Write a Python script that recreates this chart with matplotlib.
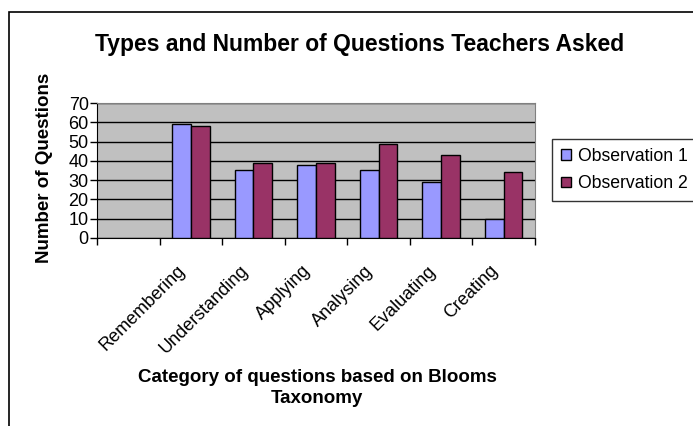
import matplotlib
matplotlib.use('Agg')
import matplotlib.pyplot as plt
import matplotlib.transforms as mtransforms
import numpy as np
from matplotlib.patches import Rectangle

plt.rcParams['font.family'] = ['Liberation Sans', 'DejaVu Sans']

categories = ['', 'Remembering', 'Understanding', 'Applying', 'Analysing', 'Evaluating', 'Creating']
obs1 = [0, 59, 35, 38, 35, 29, 10]
obs2 = [0, 58, 39, 39, 49, 43, 34]
series_names = ['Observation 1', 'Observation 2']
yticks = [0, 10, 20, 30, 40, 50, 60, 70]

fig = plt.figure(figsize=(6.93, 4.26), dpi=100)
fig.patch.set_facecolor('white')
W, H = 693, 426

# chart-area border (cut off at right and bottom like the screenshot)
fig.patches.append(Rectangle((9 / W, -0.1), 1.2, (426 - 12) / H + 0.1, transform=fig.transFigure,
                             fill=False, edgecolor='black', lw=1.2, clip_on=False))

ax = fig.add_axes([97 / W, 1 - 237.7 / H, (535 - 97) / W, (237.7 - 103.3) / H])
ax.set_facecolor('#C0C0C0')

x = np.arange(len(categories)) + 0.5
w = 0.3
b1 = ax.bar(x[1:] - w / 2, obs1[1:], w, color='#9999FF', edgecolor='black', lw=1, zorder=3, label=series_names[0])
b2 = ax.bar(x[1:] + w / 2, obs2[1:], w, color='#993366', edgecolor='black', lw=1, zorder=3, label=series_names[1])

ax.set_xlim(0, len(categories))
ax.set_ylim(0, 70)
ax.set_yticks(yticks)
ax.yaxis.grid(True, color='black', lw=1, zorder=1)
ax.set_axisbelow(True)
ax.tick_params(axis='y', direction='out', length=5, labelsize=13, pad=1, width=1)

ax.set_xticks(np.arange(len(categories) + 1))
ax.set_xticklabels([])
ax.tick_params(axis='x', which='major', direction='out', length=5, width=1)
ax.set_xticks(x, minor=True)
ax.set_xticklabels(categories, minor=True, rotation=45, ha='right', va='center',
                   rotation_mode='anchor', fontsize=13)
ax.tick_params(axis='x', which='minor', length=0, pad=22)
# nudge the slanted labels a little left, like Excel places them
shift = mtransforms.ScaledTranslation(-8 / 100, 0, fig.dpi_scale_trans)
for lab in ax.get_xticklabels(minor=True):
    lab.set_transform(lab.get_transform() + shift)

for s in ['top', 'right']:
    ax.spines[s].set_color('#808080')
for s in ['left', 'bottom']:
    ax.spines[s].set_color('black')

fig.text(360 / W, 1 - 44 / H, 'Types and Number of Questions Teachers Asked', ha='center', va='center',
         fontsize=16.5, fontweight='bold')
fig.text(45 / W, 1 - 168 / H, 'Number of Questions', ha='center', va='center', rotation=90,
         fontsize=13.5, fontweight='bold')
fig.text(317 / W, 1 - 388 / H, 'Category of questions based on Blooms\nTaxonomy', ha='center', va='center',
         fontsize=13.5, fontweight='bold', linespacing=1.25)

leg = fig.legend(handles=[b1, b2], loc='upper left', bbox_to_anchor=(552 / W, 1 - 139 / H),
                 fontsize=12.7, frameon=True, fancybox=False, edgecolor='black', borderaxespad=0,
                 handlelength=0.55, handleheight=0.55, handletextpad=0.4, borderpad=0.5, labelspacing=0.6)
leg.get_frame().set_linewidth(1)

fig.savefig('out.png', dpi=100)
